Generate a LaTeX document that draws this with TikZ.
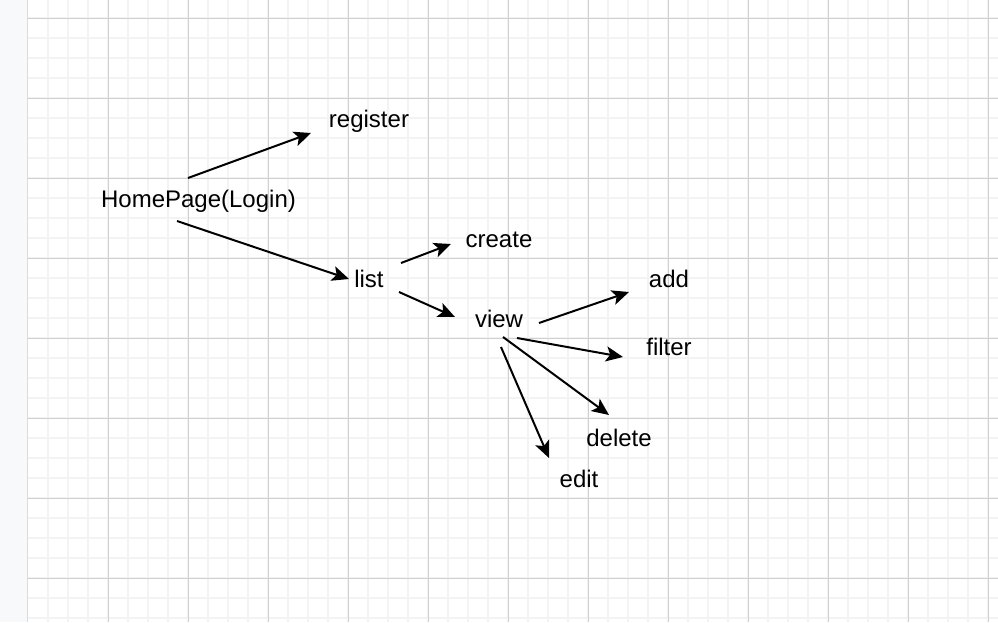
\documentclass[tikz,border=0pt]{standalone}
\usepackage{fontspec}
\setmainfont{Liberation Sans}
\usetikzlibrary{arrows.meta}
\definecolor{stripbg}{HTML}{F8F9FA}
\definecolor{gridminor}{HTML}{F3F3F3}
\definecolor{gridmajor}{HTML}{D0D0D0}
\definecolor{stripedge}{HTML}{DADCE0}
\tikzset{
  lbl/.style={anchor=base, inner sep=0pt, font=\fontsize{24pt}{28pt}\selectfont},
  conn/.style={line width=2pt, -{Stealth[length=17pt,width=15pt,inset=4pt]}},
  minorline/.style={gridminor, line width=1.6pt},
  majorline/.style={gridmajor, line width=0.9pt}
}
\begin{document}
\begin{tikzpicture}[x=1pt,y=-1pt]
\useasboundingbox (0,0) rectangle (998,622);
\fill[white] (0,0) rectangle (998,622);
% grid
\foreach \x in {48,68,...,998} \draw[minorline] (\x,0) -- (\x,622);
\foreach \y in {18,38,...,618} \draw[minorline] (28,\y) -- (998,\y);
\foreach \x in {108,188,...,988} \draw[majorline] (\x,0) -- (\x,622);
\foreach \y in {18,98,...,578} \draw[majorline] (28,\y) -- (998,\y);
% left strip
\fill[stripbg] (0,0) rectangle (27,622);
\draw[stripedge, line width=1.5pt] (27.5,0) -- (27.5,622);
% labels
\node[lbl] (home) at (198.5,207) {HomePage(Login)};
\node[lbl] (register) at (369,127) {register};
\node[lbl] (list) at (369,287) {list};
\node[lbl] (create) at (499,247) {create};
\node[lbl] (view) at (499,327) {view};
\node[lbl] (add) at (669,287) {add};
\node[lbl] (filter) at (669,355) {filter};
\node[lbl] (delete) at (619,446) {delete};
\node[lbl] (edit) at (579,487) {edit};
% connector end points
\coordinate (hrS) at (188,178); \coordinate (hrE) at (311,133);
\coordinate (hlS) at (177,221); \coordinate (hlE) at (349,279);
\coordinate (lcS) at (401,263); \coordinate (lcE) at (451,244);
\coordinate (lvS) at (399,292); \coordinate (lvE) at (455,317);
\coordinate (vaS) at (539,323); \coordinate (vaE) at (629,292);
\coordinate (vfS) at (517,338); \coordinate (vfE) at (623,357);
\coordinate (vdS) at (503,337); \coordinate (vdE) at (609,415);
\coordinate (veS) at (501,347); \coordinate (veE) at (549,458);
% connectors
\draw[conn] (hrS) -- (hrE);
\draw[conn] (hlS) -- (hlE);
\draw[conn] (lcS) -- (lcE);
\draw[conn] (lvS) -- (lvE);
\draw[conn] (vaS) -- (vaE);
\draw[conn] (vfS) -- (vfE);
\draw[conn] (vdS) -- (vdE);
\draw[conn] (veS) -- (veE);
\end{tikzpicture}
\end{document}
